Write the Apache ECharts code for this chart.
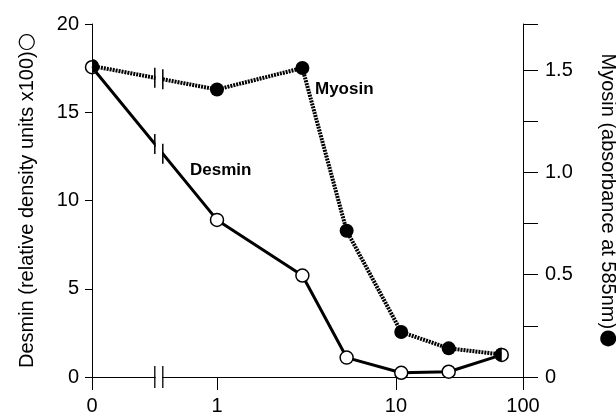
<!DOCTYPE html>
<html><head><meta charset="utf-8">
<script src="https://cdn.jsdelivr.net/npm/echarts@6/dist/echarts.min.js"></script>
<style>html,body{margin:0;padding:0;background:#fff}#c{width:616px;height:418px}</style>
</head><body><div id="c"></div>
<script>
// ---- data ----
const xValues = [0, 1, 3, 5.3, 11, 26, 68];
const desmin = [17.55, 8.9, 5.75, 1.1, 0.24, 0.3, 1.25];
const myosin = [1.52, 1.405, 1.51, 0.715, 0.22, 0.14, 0.11];
const xTickValues = [0, 1, 10, 100];
const leftTicks = [0, 5, 10, 15, 20];
const rightLabelTicks = [0, 0.5, 1.0, 1.5];

// ---- x scale: zero + axis break, then log-decade segments ----
const zeroPos = 0;
const breakPos = 0.155;
const decadeKnots = [[1, 0.29], [10, 0.7053], [100, 1.0]];
function xPos(v) {
  if (v <= 0) return zeroPos;
  const l = Math.log10(v);
  for (let i = 0; i < decadeKnots.length - 1; i++) {
    const a = decadeKnots[i], b = decadeKnots[i + 1];
    const la = Math.log10(a[0]), lb = Math.log10(b[0]);
    if (l <= lb || i === decadeKnots.length - 2) {
      return a[1] + (l - la) / (lb - la) * (b[1] - a[1]);
    }
  }
}
const tickPositions = xTickValues.map(xPos);
function xLabel(v) {
  for (let i = 0; i < tickPositions.length; i++) {
    if (Math.abs(tickPositions[i] - v) < 1e-6) return String(xTickValues[i]);
  }
  return '';
}

const FONT = 'Liberation Sans, Arial, Helvetica, sans-serif';
const black = '#000';

const RIGHT_HALF = 'path://M0,0A10,10,0,0,1,0,20Z';
const LEFT_HALF = 'path://M10,0A10,10,0,0,0,10,20Z';

const desminData = xValues.map((x, i) => [xPos(x), desmin[i]]);
const myosinData = xValues.map((x, i) => {
  const item = { value: [xPos(x), myosin[i]] };
  if (i === 0) { item.symbol = RIGHT_HALF; item.symbolSize = [7, 14]; item.symbolOffset = [3.5, 0]; }
  if (i === xValues.length - 1) { item.symbol = LEFT_HALF; item.symbolSize = [7, 14]; item.symbolOffset = [-3.5, 0]; }
  return item;
});

// break marks drawn through the axes' scales
function breakOnLine(vals) {
  return function (params, api) {
    const p0 = api.coord([xPos(xValues[0]), vals[0]]);
    const p1 = api.coord([xPos(xValues[1]), vals[1]]);
    const xb = api.coord([breakPos, 0])[0];
    const h = 4;
    const yAt = x => p0[1] + (x - p0[0]) / (p1[0] - p0[0]) * (p1[1] - p0[1]);
    const yl = yAt(xb - h), yr = yAt(xb + h);
    return {
      type: 'group',
      children: [
        { type: 'polygon', shape: { points: [[xb - h + 0.8, yl - 4], [xb + h - 0.8, yr - 4], [xb + h - 0.8, yr + 4], [xb - h + 0.8, yl + 4]] }, style: { fill: '#fff' } },
        { type: 'line', shape: { x1: xb - h, y1: yl - 10, x2: xb - h, y2: yl + 10 }, style: { stroke: black, lineWidth: 1.5 } },
        { type: 'line', shape: { x1: xb + h, y1: yr - 10, x2: xb + h, y2: yr + 10 }, style: { stroke: black, lineWidth: 1.5 } }
      ]
    };
  };
}
function breakOnAxis(params, api) {
  const p = api.coord([breakPos, 0]);
  const h = 4;
  return {
    type: 'group',
    children: [
      { type: 'rect', shape: { x: p[0] - h + 0.8, y: p[1] - 2, width: 2 * h - 1.6, height: 4 }, style: { fill: '#fff' } },
      { type: 'line', shape: { x1: p[0] - h, y1: p[1] - 11, x2: p[0] - h, y2: p[1] + 11 }, style: { stroke: black, lineWidth: 1.3 } },
      { type: 'line', shape: { x1: p[0] + h, y1: p[1] - 11, x2: p[0] + h, y2: p[1] + 11 }, style: { stroke: black, lineWidth: 1.3 } }
    ]
  };
}

const nameStyle = {
  color: black, fontSize: 20, fontFamily: FONT, lineHeight: 20,
  rich: { s: { fontSize: 21, lineHeight: 20, color: black, fontFamily: 'DejaVu Sans' } }
};

const chart = echarts.init(document.getElementById('c'), null, { renderer: 'canvas' });
chart.setOption({
  backgroundColor: '#fff',
  animation: false,
  grid: { left: 92, right: 93, top: 24, bottom: 41, containLabel: false, outerBoundsMode: 'none' },
  xAxis: {
    type: 'value', min: 0, max: 1,
    axisLine: { lineStyle: { color: black, width: 1 } },
    axisTick: { show: true, length: 13, customValues: tickPositions, lineStyle: { color: black, width: 1 } },
    axisLabel: { customValues: tickPositions, formatter: xLabel, color: black, fontSize: 20, fontFamily: FONT, margin: 19 },
    splitLine: { show: false }
  },
  yAxis: [
    {
      type: 'value', min: 0, max: 20, interval: 5, position: 'left',
      axisLine: { show: true, lineStyle: { color: black, width: 1 } },
      axisTick: { show: true, length: 7, lineStyle: { color: black, width: 1 } },
      axisLabel: { color: black, fontSize: 20, fontFamily: FONT, margin: 13 },
      splitLine: { show: false },
      name: 'Desmin (relative density units x100){s|\u25CB}',
      nameLocation: 'middle', nameRotate: 90, nameGap: 55,
      nameTextStyle: nameStyle
    },
    {
      type: 'value', min: 0, max: 1.725, interval: 0.25, position: 'right',
      axisLine: { show: true, lineStyle: { color: black, width: 1 } },
      axisTick: { show: true, length: 15, lineStyle: { color: black, width: 1 } },
      axisLabel: {
        color: black, fontSize: 20, fontFamily: FONT, margin: 22,
        formatter: v => {
          const hit = rightLabelTicks.find(t => Math.abs(t - v) < 1e-6);
          if (hit === undefined) return '';
          return hit === 0 ? '0' : hit.toFixed(1);
        }
      },
      splitLine: { show: false },
      name: 'Myosin (absorbance at 585nm){s|\u25CF}',
      nameLocation: 'middle', nameRotate: -90, nameGap: 75,
      nameTextStyle: nameStyle
    }
  ],
  series: [
    {
      name: 'Desmin', type: 'line', yAxisIndex: 0, data: desminData, z: 2,
      symbol: 'circle', symbolSize: 13,
      itemStyle: { color: '#fff', borderColor: black, borderWidth: 1.5 },
      lineStyle: { color: black, width: 3 }
    },
    {
      name: 'Myosin', type: 'line', yAxisIndex: 1, data: myosinData, z: 3,
      symbol: 'circle', symbolSize: 14,
      itemStyle: { color: black, borderWidth: 0 },
      lineStyle: { color: '#000', width: 4, type: [2, 1] }
    },
    { type: 'custom', yAxisIndex: 0, z: 5, data: [[breakPos, desmin[0]]], renderItem: breakOnLine(desmin), clip: false },
    { type: 'custom', yAxisIndex: 1, z: 5, data: [[breakPos, myosin[0]]], renderItem: breakOnLine(myosin), clip: false },
    { type: 'custom', yAxisIndex: 0, z: 5, data: [[breakPos, 0]], renderItem: breakOnAxis, clip: false }
  ],
  graphic: [
    { type: 'text', left: 190, top: 162, style: { text: 'Desmin', font: 'bold 17px ' + FONT, fill: black } },
    { type: 'text', left: 315, top: 81, style: { text: 'Myosin', font: 'bold 17px ' + FONT, fill: black } }
  ]
});
</script></body></html>
